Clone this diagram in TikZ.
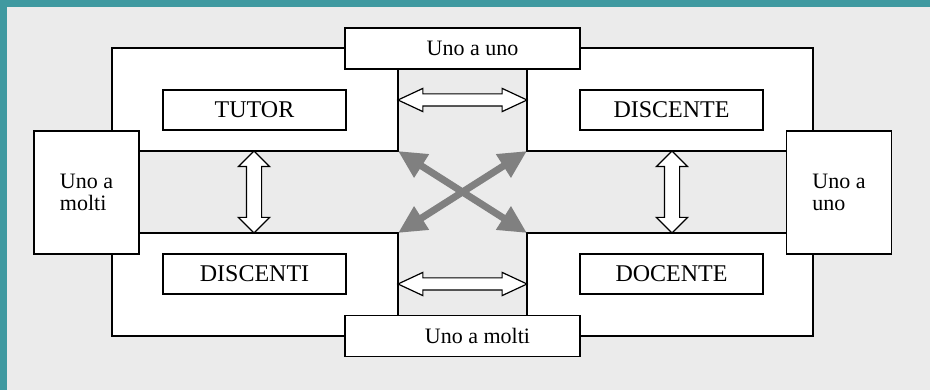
\documentclass[tikz,border=0pt]{standalone}
\usepackage{fontspec}
\setmainfont{Liberation Serif}
\usepackage{xcolor}
\usetikzlibrary{shapes.arrows, arrows.meta, positioning}
\definecolor{pagegray}{HTML}{EBEBEB}
\definecolor{frameteal}{HTML}{3F99A0}
\definecolor{crossgray}{HTML}{808080}

\begin{document}
\begin{tikzpicture}[x=1pt, y=-1pt,
        box/.style={rectangle, draw, fill=white, line width=1.2pt, inner sep=0pt, outer sep=0pt},
        role/.style={box, minimum width=183pt, minimum height=40pt, font=\fontsize{24}{26}\selectfont},
        mode/.style={box, minimum width=235pt, minimum height=41pt, font=\fontsize{22}{22}\selectfont},
        side/.style={box, minimum width=105pt, minimum height=123pt, align=left, font=\fontsize{22}{22}\selectfont},
        hollow/.style={double arrow, draw, fill=white, line width=1.2pt, inner xsep=0pt, inner ysep=5.5pt,
            double arrow head extend=5.5pt, double arrow tip angle=50, outer sep=0pt},
        upright/.style={hollow, rotate=90, inner ysep=7pt, double arrow head extend=8pt, double arrow tip angle=90},
        cross/.style={{Triangle[length=28pt, width=26pt]}-{Triangle[length=28pt, width=26pt]}, line width=7pt, crossgray}
    ]
        % page and frame
        \useasboundingbox (0,0) rectangle (930,390);
        \fill[pagegray] (0,0) rectangle (930,390);
        \fill[frameteal] (0,0) rectangle (930,7);
        \fill[frameteal] (0,0) rectangle (7,390);

        % outer frame and the grey cross between the four roles
        \draw[fill=white, line width=1.2pt] (112,48) rectangle (813,336);
        \fill[pagegray] (139,151) rectangle (787,233);
        \fill[pagegray] (398,69) rectangle (527,316);
        \coordinate (nw) at (398,151);
        \coordinate (ne) at (527,151);
        \coordinate (sw) at (398,233);
        \coordinate (se) at (527,233);
        \draw[line width=1.2pt] (139,151) -- (nw) -- (398,69);
        \draw[line width=1.2pt] (787,151) -- (ne) -- (527,69);
        \draw[line width=1.2pt] (139,233) -- (sw) -- (398,316);
        \draw[line width=1.2pt] (787,233) -- (se) -- (527,316);

        % roles
        \node[role] (tutor) at (254.5,110) {TUTOR};
        \node[role] (discente) at (671.5,110) {DISCENTE};
        \node[role] (discenti) at (254.5,274) {DISCENTI};
        \node[role] (docente) at (671.5,274) {DOCENTE};

        % kinds of relation
        \node[mode] (unouno) at (462.5,48.5) {\hspace{20pt}Uno a uno};
        \node[mode] (unomolti) at (462.5,336) {\hspace{30pt}Uno a molti};
        \node[side] (left) at (86.5,192.5) {Uno a\\molti};
        \node[side] (right) at (839,192.5) {Uno a\\uno};

        % links
        \node[hollow, minimum height=129pt] (toplink) at (462.5,100) {};
        \node[hollow, minimum height=129pt] (botlink) at (462.5,284) {};
        \node[upright, minimum height=82pt] (leftlink) at (254,192) {};
        \node[upright, minimum height=82pt] (rightlink) at (672,192) {};
        \draw[cross] (nw) -- (se);
        \draw[cross] (ne) -- (sw);
    \end{tikzpicture}
\end{document}
